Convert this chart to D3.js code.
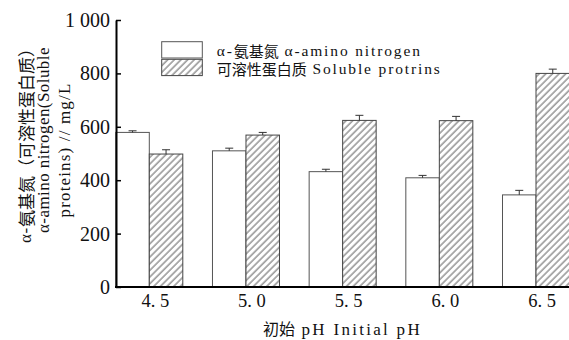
<!DOCTYPE html>
<html>
<head>
<meta charset="utf-8">
<script src="https://cdn.jsdelivr.net/npm/d3@7/dist/d3.min.js"></script>
<style>
  html, body { margin: 0; padding: 0; background: #fff; }
  svg { display: block; }
</style>
</head>
<body>
<svg id="chart" width="569" height="340"></svg>
<script>
// Initial pH levels tested
const categories = ["4.5", "5.0", "5.5", "6.0", "6.5"];
const tickLabels = ["4. 5", "5. 0", "5. 5", "6. 0", "6. 5"];
// α-amino nitrogen, mg/L (mean and SD)
const aminoValues = [579, 510, 432, 409, 345];
const aminoErrors = [6, 10, 9, 9, 17];
// Soluble proteins, mg/L (mean and SD)
const proteinValues = [498, 569, 624, 623, 800];
const proteinErrors = [16, 10, 19, 16, 16];
const yTicks = [0, 200, 400, 600, 800, 1000];

const W = 569, H = 340;
const svg = d3.select("#chart");

const CJK = "'Noto Sans CJK SC', sans-serif";
const SERIF = "'Liberation Serif', 'DejaVu Serif', serif";

const axisX = 116, baseY = 287, topY = 20;
const x = d3.scalePoint().domain(categories).range([149.3, 536]);
const y = d3.scaleLinear().domain([0, 1000]).range([baseY, topY]);
const barW = 33.5;

// Diagonal hatch fill
const defs = svg.append("defs");
const pat = defs.append("pattern")
  .attr("id", "hatch")
  .attr("patternUnits", "userSpaceOnUse")
  .attr("width", 4.7).attr("height", 10)
  .attr("patternTransform", "rotate(45)");
pat.append("rect").attr("width", 4.7).attr("height", 10).attr("fill", "#fff");
pat.append("line")
  .attr("x1", 1).attr("x2", 1).attr("y1", 0).attr("y2", 10)
  .attr("stroke", "#444").attr("stroke-width", 0.9);

// Mixed-script text: segments of [text, family, size]; Latin runs are
// letter-spaced so the whole line spans the given width.
function richText(sel, segs, width) {
  const latin = [];
  segs.forEach(([t, fam, size]) => {
    const ts = sel.append("tspan").attr("font-family", fam).attr("font-size", size).text(t);
    if (fam === SERIF) latin.push(ts);
  });
  if (width && latin.length) {
    const cur = sel.node().getComputedTextLength();
    const n = d3.sum(latin, ts => ts.text().length);
    const ls = (width - cur) / n;
    latin.forEach(ts => ts.attr("letter-spacing", ls.toFixed(2)));
  }
  return sel;
}

const series = [
  { values: aminoValues, errors: aminoErrors, fill: "#fff", stroke: "#555", offset: -barW },
  { values: proteinValues, errors: proteinErrors, fill: "url(#hatch)", stroke: "#444", offset: 0 }
];

series.forEach(s => {
  const g = svg.append("g");
  g.selectAll("rect").data(categories).join("rect")
    .attr("x", (c) => x(c) + s.offset)
    .attr("y", (c, i) => y(s.values[i]))
    .attr("width", barW)
    .attr("height", (c, i) => baseY - y(s.values[i]))
    .attr("fill", s.fill)
    .attr("stroke", s.stroke)
    .attr("stroke-width", 1);
  // error bars (upper half)
  const eg = g.selectAll("g.err").data(categories).join("g").attr("class", "err");
  eg.append("line")
    .attr("x1", c => x(c) + s.offset + barW / 2)
    .attr("x2", c => x(c) + s.offset + barW / 2)
    .attr("y1", (c, i) => y(s.values[i]))
    .attr("y2", (c, i) => y(s.values[i] + s.errors[i]))
    .attr("stroke", "#333").attr("stroke-width", 1);
  eg.append("line")
    .attr("x1", c => x(c) + s.offset + barW / 2 - 4)
    .attr("x2", c => x(c) + s.offset + barW / 2 + 4)
    .attr("y1", (c, i) => y(s.values[i] + s.errors[i]))
    .attr("y2", (c, i) => y(s.values[i] + s.errors[i]))
    .attr("stroke", "#333").attr("stroke-width", 1);
});

// Y axis with inward ticks
const yAxis = d3.axisLeft(y)
  .tickValues(yTicks)
  .tickSizeInner(-5)
  .tickSizeOuter(0)
  .tickPadding(6)
  .tickFormat(d => d >= 1000 ? d3.format(",")(d).replace(",", " ") : String(d));
const yg = svg.append("g").attr("transform", `translate(${axisX},0)`).call(yAxis);
yg.select(".domain").attr("stroke", "#000").attr("stroke-width", 2);
yg.selectAll(".tick line").attr("stroke", "#000").attr("stroke-width", 1.5);
yg.selectAll(".tick text")
  .attr("font-family", SERIF).attr("font-size", 20).attr("fill", "#111");

// X axis: baseline across the plot plus category labels
const xAxis = d3.axisBottom(x).tickSize(0).tickPadding(7)
  .tickFormat((c, i) => tickLabels[i]);
const xg = svg.append("g").attr("transform", `translate(0,${baseY})`).call(xAxis);
xg.select(".domain").remove();
xg.selectAll(".tick text")
  .attr("font-family", SERIF).attr("font-size", 18.5).attr("fill", "#111")
  .attr("dx", 5.5);
svg.append("line")
  .attr("x1", axisX - 1).attr("x2", W)
  .attr("y1", baseY).attr("y2", baseY)
  .attr("stroke", "#000").attr("stroke-width", 2);

// X axis title
richText(
  svg.append("text").attr("x", 263).attr("y", 335).attr("fill", "#111"),
  [["初始", CJK, 16], [" pH Initial pH", SERIF, 17]],
  159
);

// Y axis title (three lines)
const yTitle = [
  { cx: 25, cy: 141.5, w: 203, segs: [["α-", SERIF, 17], ["氨基氮（可溶性蛋白质）", CJK, 17]] },
  { cx: 43, cy: 140, w: 186, segs: [["α-amino nitrogen(Soluble", SERIF, 17]] },
  { cx: 64, cy: 150, w: 135, segs: [["proteins) // mg/L", SERIF, 17]] }
];
yTitle.forEach(l => {
  const t = svg.append("text")
    .attr("transform", `translate(${l.cx},${l.cy}) rotate(-90)`)
    .attr("dominant-baseline", "central")
    .attr("fill", "#111");
  richText(t, l.segs, l.w);
  t.attr("x", -l.w / 2);
});

// Legend
const legend = [
  { fill: "#fff", stroke: "#555", y: 41.7, w: 205, segs: [["α-", SERIF, 15.5], ["氨基氮", CJK, 15], [" α-amino nitrogen", SERIF, 15.5]] },
  { fill: "url(#hatch)", stroke: "#444", y: 59.3, w: 225, segs: [["可溶性蛋白质", CJK, 15], [" Soluble protrins", SERIF, 15.5]] }
];
legend.forEach(l => {
  svg.append("rect")
    .attr("x", 161.7).attr("y", l.y).attr("width", 40.6).attr("height", 16.3)
    .attr("fill", l.fill).attr("stroke", l.stroke).attr("stroke-width", 1);
  richText(
    svg.append("text").attr("x", 216.7).attr("y", l.y + 8.2)
      .attr("dominant-baseline", "central").attr("fill", "#111"),
    l.segs, l.w
  );
});
</script>
</body>
</html>
